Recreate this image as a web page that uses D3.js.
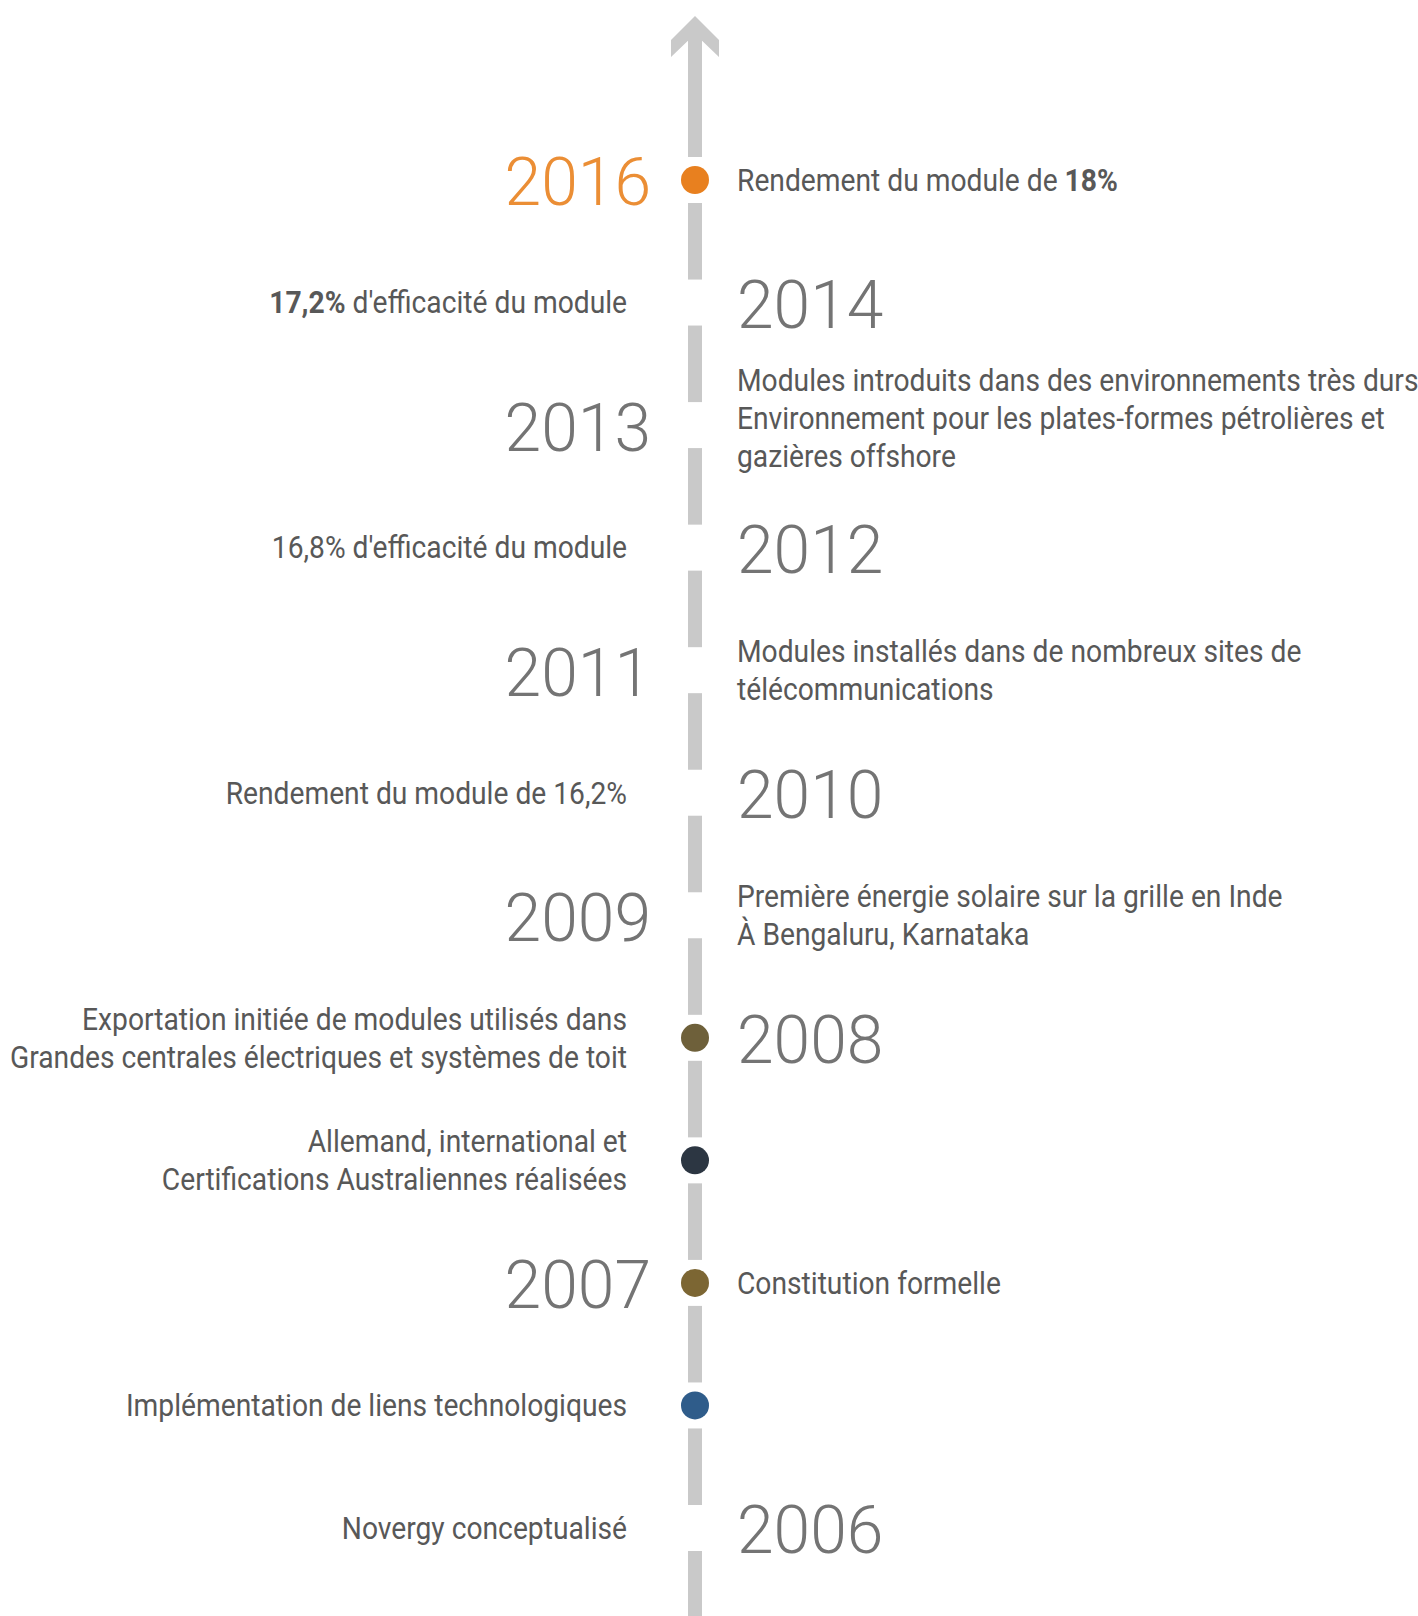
<!DOCTYPE html>
<html>
<head>
<meta charset="utf-8">
<script src="https://cdn.jsdelivr.net/npm/d3@7"></script>
<style>
  body { margin: 0; background: #fff; }
  svg { display: block; }
</style>
</head>
<body>
<svg width="1418" height="1616"></svg>
<script>
// one entry per row of the timeline, top to bottom
var rowIds = ["r2016","r2014","r2013","r2012","r2011","r2010","r2009","r2008","rCert","r2007","rImpl","r2006"]
var years = ["2016","2014","2013","2012","2011","2010","2009","2008","","2007","","2006"]
var yearSides = ["left","right","left","right","left","right","left","right","","left","","right"]
// notes, ** marks the bold part, | splits lines
var notes = [
    "Rendement du module de **18%**",
    "**17,2%** d'efficacité du module",
    "Modules introduits dans des environnements très durs|Environnement pour les plates-formes pétrolières et|gazières offshore",
    "16,8% d'efficacité du module",
    "Modules installés dans de nombreux sites de|télécommunications",
    "Rendement du module de 16,2%",
    "Première énergie solaire sur la grille en Inde|À Bengaluru, Karnataka",
    "Exportation initiée de modules utilisés dans|Grandes centrales électriques et systèmes de toit",
    "Allemand, international et|Certifications Australiennes réalisées",
    "Constitution formelle",
    "Implémentation de liens technologiques",
    "Novergy conceptualisé"
]
var dotColors = ["#e8801f",null,null,null,null,null,null,"#6e603a","#2c3642","#7c6633","#2f5c8a",null]

var svg = d3.select("svg")
var width = 1418, height = 1616
var axisX = 695
var gapHalf = 23
var lineColor = "#c9c9c9"

var yScale = d3.scalePoint()
    .domain(rowIds)
    .range([180, 1528])

// year on one side, note on the other
var yearOffsetLeft = axisX - 44
var yearOffsetRight = axisX + 42
var noteOffsetLeft = axisX - 68
var noteOffsetRight = axisX + 42

// vertical line pieces between the rows
var stops = [34].concat(rowIds.map(function(d){ return yScale(d) })).concat([height + 30])
var segs = []
for (var i = 0; i < stops.length - 1; i++) {
    var a = i == 0 ? stops[i] : stops[i] + gapHalf
    var b = stops[i+1] - gapHalf
    segs.push([a, b])
}
svg.append("g")
    .attr("class","axisLine")
    .selectAll("rect")
    .data(segs)
    .enter()
    .append("rect")
    .attr("x", axisX - 7)
    .attr("width", 14)
    .attr("y", function(d){ return d[0] })
    .attr("height", function(d){ return Math.max(0, d[1] - d[0]) })
    .attr("fill", lineColor)

// arrow head
svg.append("path")
    .attr("d", "M" + axisX + ",16 L" + (axisX+24) + ",40 L" + (axisX+24) + ",57 L" + axisX + ",34 L" + (axisX-24) + ",57 L" + (axisX-24) + ",40 Z")
    .attr("fill", lineColor)

var rows = svg.append("g")
    .selectAll("g")
    .data(rowIds)
    .enter()
    .append("g")
    .attr("transform", function(d){ return "translate(0," + yScale(d) + ")" })

// dots
rows.filter(function(d,i){ return dotColors[i] != null })
    .append("circle")
    .attr("cx", axisX)
    .attr("r", 14)
    .attr("fill", function(d){ return dotColors[rowIds.indexOf(d)] })

// years
rows.filter(function(d,i){ return years[i] != "" })
    .append("text")
    .attr("x", function(d){ var i = rowIds.indexOf(d); return yearSides[i] == "left" ? yearOffsetLeft : yearOffsetRight })
    .attr("y", 2)
    .attr("dy", "0.355em")
    .attr("text-anchor", function(d){ return yearSides[rowIds.indexOf(d)] == "left" ? "end" : "start" })
    .style("font-family", "'Roboto Light', Roboto, sans-serif")
    .style("font-weight", 300)
    .style("font-size", "66px")
    .attr("fill", function(d){ return rowIds.indexOf(d) == 0 ? "#eb8e35" : "#747474" })
    .text(function(d){ return years[rowIds.indexOf(d)] })

// notes
var condense = 0.91
var lineH = 38
rows.each(function(d, i) {
    var left = yearSides[i] == "right" || yearSides[i] == ""
    var lines = notes[i].split("|")
    var x = left ? noteOffsetLeft : noteOffsetRight
    // three-line blocks sit a bit higher
    var lift = lines.length > 2 ? -7 : 0
    var g = d3.select(this).append("g")
        .attr("transform", "translate(" + x + "," + lift + ") scale(" + condense + ",1)")
    var t = g.append("text")
        .attr("text-anchor", left ? "end" : "start")
        .style("font-family", "Roboto, sans-serif")
        .style("font-size", "31px")
        .attr("fill", "#585858")
    lines.forEach(function(line, k) {
        var y = (k - (lines.length - 1) / 2) * lineH
        var parts = line.split("**")
        parts.forEach(function(p, j) {
            if (p == "") return
            var ts = t.append("tspan").text(p)
            if (j % 2 == 1) ts.style("font-weight", 700)
            if (j == 0 || (j == 1 && parts[0] == "")) {
                ts.attr("x", 0).attr("y", y).attr("dy", "0.35em")
            }
        })
    })
})
</script>
</body>
</html>
